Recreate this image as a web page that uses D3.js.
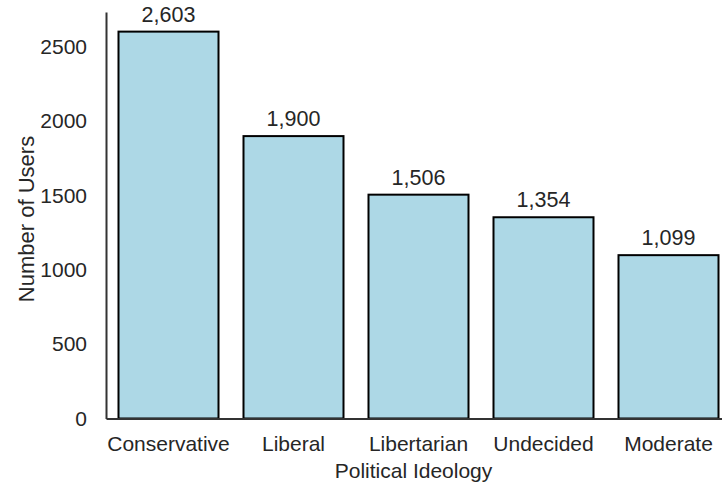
<!DOCTYPE html>
<html><head><meta charset="utf-8">
<script src="https://cdn.jsdelivr.net/npm/d3@7"></script>
<style>body{margin:0;background:#fff}svg{display:block}text{font-family:"Liberation Sans",Arial,sans-serif;fill:#262626}</style>
</head><body><svg id="c" width="722" height="487"></svg>
<script>
const categories = ["Conservative","Liberal","Libertarian","Undecided","Moderate"];
const users = [2603,1900,1506,1354,1099];
const yTicks = [0,500,1000,1500,2000,2500];
const xLabel = "Political Ideology";
const yLabel = "Number of Users";

const svg = d3.select("#c");
const mLeft = 106, mRight = 731, mTop = 12, mBottom = 418.5;
const x = d3.scaleBand().domain(categories).range([mLeft, mRight]).paddingInner(0.2).paddingOuter(0.1);
const y = d3.scaleLinear().domain([0, 2735]).range([mBottom, mTop]);

svg.append("g").selectAll("rect").data(categories).join("rect")
  .attr("x", d => x(d)).attr("width", x.bandwidth())
  .attr("y", (d,i) => y(users[i])).attr("height", (d,i) => y(0) - y(users[i]))
  .attr("fill", "#add8e6").attr("stroke", "#000").attr("stroke-width", 2);

const fmt = d3.format(",");
svg.append("g").selectAll("text").data(categories).join("text")
  .attr("x", d => x(d) + x.bandwidth()/2).attr("y", (d,i) => y(users[i]) - 10)
  .attr("text-anchor", "middle").style("font-size", "21.5px")
  .text((d,i) => fmt(users[i]));

const yAxis = svg.append("g").attr("transform", `translate(${mLeft},0)`)
  .call(d3.axisLeft(y).tickValues(yTicks).tickSize(0).tickPadding(19).tickFormat(d3.format("d")));
yAxis.select(".domain").attr("stroke", "#333").attr("stroke-width", 2);
yAxis.selectAll("text").style("font-size", "21px").attr("fill", "#262626");

const xAxis = svg.append("g").attr("transform", `translate(0,${mBottom})`)
  .call(d3.axisBottom(x).tickSize(0).tickPadding(17.5));
xAxis.select(".domain").attr("stroke", "#333").attr("stroke-width", 2);
xAxis.selectAll("text").style("font-size", "21px").attr("fill", "#262626");

svg.append("text").attr("x", 413.5).attr("y", 478)
  .attr("text-anchor", "middle").style("font-size", "21px").text(xLabel);
svg.append("text").attr("transform", `translate(34,219) rotate(-90)`)
  .attr("text-anchor", "middle").style("font-size", "22px").text(yLabel);
</script></body></html>
